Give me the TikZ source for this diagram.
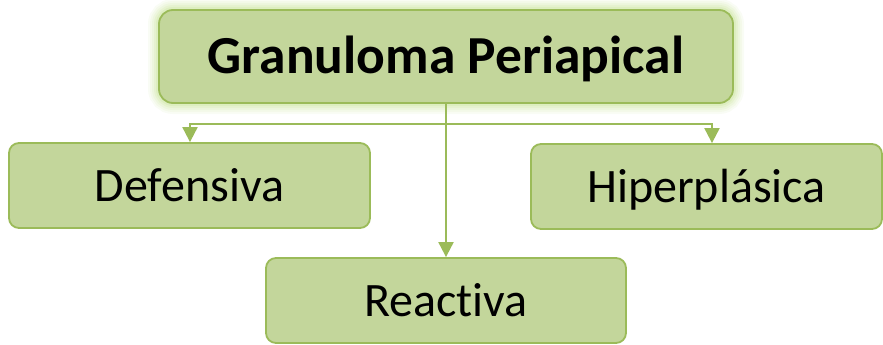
\documentclass[tikz,border=0pt]{standalone}
\usepackage{fontspec}
\setmainfont[RawFeature=-liga]{Carlito}
\usetikzlibrary{arrows.meta}
\definecolor{boxfill}{HTML}{C3D69B}
\definecolor{boxline}{HTML}{9BBB59}
\definecolor{glowc}{HTML}{C9E39A}
\tikzset{
  leaf/.style={draw=boxline, fill=boxfill, line width=1.8pt, rounded corners=10pt,
    inner sep=0pt, minimum height=85pt, font=\fontsize{48}{52}\selectfont, text=black,
    text height=31pt, text depth=0pt},
  rootbox/.style={draw=boxline, fill=boxfill, line width=1.8pt, rounded corners=14pt,
    inner sep=0pt, minimum width=574pt, minimum height=93pt,
    font=\fontsize{53.5}{58}\selectfont\bfseries, text=black,
    text height=34.5pt, text depth=0pt},
  conn/.style={draw=boxline, line width=2pt, -{Triangle[width=15pt,length=15pt]}}
}
\begin{document}
\begin{tikzpicture}[x=1pt,y=-1pt]
  \useasboundingbox (0,0) rectangle (883,345);
  % soft glow around the title box
  \foreach \w/\o in {22/0.10,18/0.12,14/0.15,10/0.2,6/0.3} {
    \draw[glowc, line width=\w pt, opacity=\o, rounded corners=14pt]
      (159,10) rectangle (733,103);
  }
  \node[rootbox] (root) at (446,56.5) {Granuloma Periapical};
  \node[leaf, minimum width=361pt] (def) at (189.5,185.5) {Defensiva};
  \node[leaf, minimum width=351pt] (hip) at (706.5,186.5) {Hiperplásica};
  \node[leaf, minimum width=360pt] (rea) at (446,300.5) {Reactiva};
  \coordinate (j) at (446,123.5);
  \draw[conn] (root.south) -- (rea.north);
  \draw[conn] (j) -| ([xshift=0.5pt]def.north);
  \draw[conn] (j) -| ([xshift=5.5pt]hip.north);
\end{tikzpicture}
\end{document}
